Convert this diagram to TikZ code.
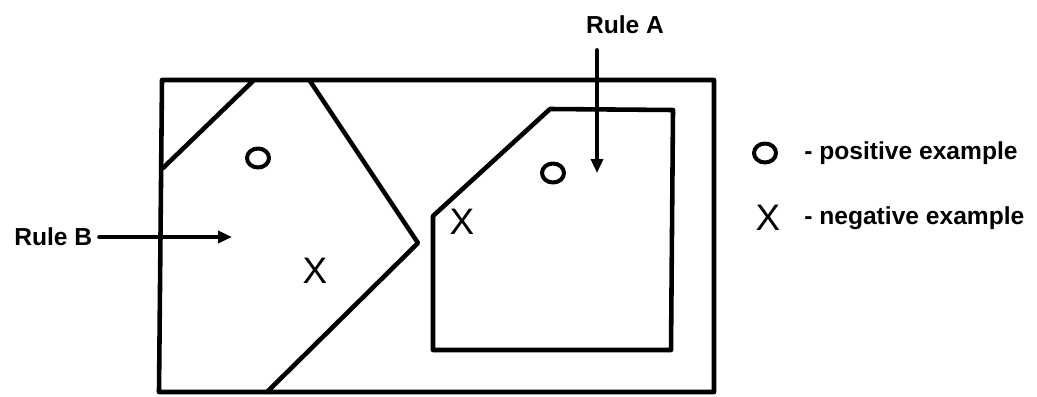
\documentclass[tikz,border=0pt]{standalone}
\usepackage{fontspec}
\setmainfont{Liberation Sans}
\usetikzlibrary{positioning,arrows.meta,shapes.geometric}

\begin{document}
\begin{tikzpicture}[x=0.02cm,y=-0.02cm,>={Triangle[length=0.28cm,width=0.24cm]},
    line width=2.6pt,line join=round,line cap=round,
    lbl/.style={font=\bfseries\fontsize{14}{16}\selectfont,inner sep=0pt},
    posmark/.style={draw,ellipse,line width=2.3pt,minimum width=0.44cm,minimum height=0.38cm,inner sep=0pt},
    negmark/.style={font=\fontsize{21}{23}\selectfont,inner sep=0pt}]
  \useasboundingbox (0,0) rectangle (1037,396);
  % instance space
  \draw (162,80) -- (714,80) -- (714,392) -- (159,392) -- cycle;
  % region of rule B
  \draw (253,81) -- (163,168);
  \draw (310,81) -- (418,243) -- (267,392);
  % region of rule A
  \draw (550,109) -- (673,110) -- (671,350) -- (433,350) -- (433,216) -- cycle;
  % examples
  \node[posmark] (pb) at (258,158) {};
  \node[negmark] (nb) at (315,271) {X};
  \node[posmark] (pa) at (553,173) {};
  \node[negmark] (na) at (462,222) {X};
  % rule labels
  \node[lbl] (ruleA) at (625,25) {Rule A};
  \node[lbl,anchor=west] (ruleB) at (12,237) {Rule B};
  \coordinate (tipA) at (597,173);
  \coordinate (tipB) at (232,237);
  \draw[->,shorten <=0.28cm] (ruleA.south -| tipA) -- (tipA);
  \draw[->,shorten <=0.1cm] (ruleB.east) -- (tipB);
  % legend
  \node[posmark] (legpos) at (765,153) {};
  \node[lbl,right=0.48cm of legpos] (postxt) {- positive example};
  \node[negmark] (legneg) at (768,218) {X};
  \node[lbl,anchor=west] (negtxt) at (postxt.west |- legneg) {- negative example};
\end{tikzpicture}
\end{document}
